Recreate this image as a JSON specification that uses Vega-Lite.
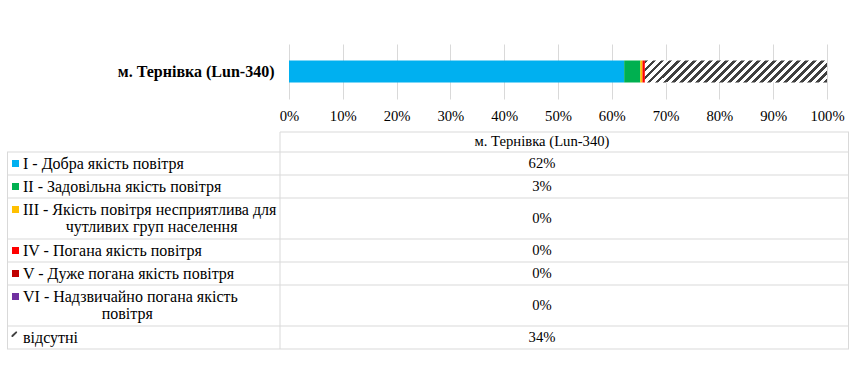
{
  "$schema": "https://vega.github.io/schema/vega-lite/v6.json",
  "padding": {"left": 6, "top": 44, "right": 0, "bottom": 0},
  "background": "white",
  "spacing": 8,
  "config": {"font": "Liberation Serif", "view": {"stroke": null}},
  "datasets": {
    "rows": [
      {"idx": 1, "station": "м. Тернівка (Lun-340)", "cat": "I - Добра якість повітря", "label": ["I - Добра якість повітря"], "value": 0.623},
      {"idx": 2, "station": "м. Тернівка (Lun-340)", "cat": "II - Задовільна якість повітря", "label": ["II - Задовільна якість повітря"], "value": 0.03},
      {"idx": 3, "station": "м. Тернівка (Lun-340)", "cat": "III - Якість повітря несприятлива для чутливих груп населення", "label": ["III - Якість повітря несприятлива для", "чутливих груп населення"], "value": 0.004},
      {"idx": 4, "station": "м. Тернівка (Lun-340)", "cat": "IV - Погана якість повітря", "label": ["IV - Погана якість повітря"], "value": 0.0045},
      {"idx": 5, "station": "м. Тернівка (Lun-340)", "cat": "V - Дуже погана якість повітря", "label": ["V - Дуже погана якість повітря"], "value": 0},
      {"idx": 6, "station": "м. Тернівка (Lun-340)", "cat": "VI - Надзвичайно погана якість повітря", "label": ["VI - Надзвичайно погана якість", "повітря"], "value": 0},
      {"idx": 7, "station": "м. Тернівка (Lun-340)", "cat": "відсутні", "label": ["відсутні"], "value": 0.3385}
    ]
  },
  "vconcat": [
    {
      "width": 842,
      "height": 55,
      "data": {"name": "rows"},
      "transform": [
        {"stack": "value", "groupby": ["station"], "sort": [{"field": "idx", "order": "ascending"}], "as": ["x0", "x1"]}
      ],
      "encoding": {
        "y": {
          "field": "station", "type": "nominal",
          "scale": {"paddingInner": 0, "paddingOuter": 0.75},
          "axis": {"title": null, "offset": -282, "labelFont": "Liberation Serif", "labelFontWeight": "bold", "labelFontSize": 16, "labelColor": "#000000", "ticks": false, "domain": false, "labelPadding": 15, "labelLimit": 280}
        },
        "x": {
          "field": "x0", "type": "quantitative",
          "scale": {"domain": [-0.52416, 1.04089], "nice": false, "zero": false},
          "axis": {"title": null, "values": [0, 0.1, 0.2, 0.3, 0.4, 0.5, 0.6, 0.7, 0.8, 0.9, 1], "format": ".0%", "grid": true, "gridColor": "#D9D9D9", "gridWidth": 1, "domain": false, "ticks": false, "labelPadding": 9, "labelFont": "Liberation Serif", "labelFontSize": 14.67, "labelColor": "#000000", "labelFlush": false}
        },
        "x2": {"field": "x1"}
      },
      "layer": [
        {
          "transform": [{"filter": "datum.idx < 7"}],
          "mark": {"type": "bar"},
          "encoding": {
            "color": {
              "field": "cat", "type": "nominal", "legend": null,
              "scale": {
                "domain": ["I - Добра якість повітря", "II - Задовільна якість повітря", "III - Якість повітря несприятлива для чутливих груп населення", "IV - Погана якість повітря", "V - Дуже погана якість повітря", "VI - Надзвичайно погана якість повітря", "відсутні"],
                "range": ["#00B0F0", "#00B050", "#FFC000", "#FF0000", "#C00000", "#7030A0", "#404040"]
              }
            }
          }
        },
        {
          "transform": [{"filter": "datum.idx == 7"}],
          "mark": {
            "type": "bar",
            "fill": {
              "gradient": "linear", "x1": 0, "y1": 0, "x2": 1.1047, "y2": 0.1335,
              "stops": [
                {"offset": 0, "color": "#404040"}, {"offset": 0.0176, "color": "#404040"}, {"offset": 0.0176, "color": "#ffffff"}, {"offset": 0.0392, "color": "#ffffff"},
                {"offset": 0.0392, "color": "#404040"}, {"offset": 0.0568, "color": "#404040"}, {"offset": 0.0568, "color": "#ffffff"}, {"offset": 0.0784, "color": "#ffffff"},
                {"offset": 0.0784, "color": "#404040"}, {"offset": 0.0960, "color": "#404040"}, {"offset": 0.0960, "color": "#ffffff"}, {"offset": 0.1176, "color": "#ffffff"},
                {"offset": 0.1176, "color": "#404040"}, {"offset": 0.1352, "color": "#404040"}, {"offset": 0.1352, "color": "#ffffff"}, {"offset": 0.1569, "color": "#ffffff"},
                {"offset": 0.1569, "color": "#404040"}, {"offset": 0.1745, "color": "#404040"}, {"offset": 0.1745, "color": "#ffffff"}, {"offset": 0.1961, "color": "#ffffff"},
                {"offset": 0.1961, "color": "#404040"}, {"offset": 0.2137, "color": "#404040"}, {"offset": 0.2137, "color": "#ffffff"}, {"offset": 0.2353, "color": "#ffffff"},
                {"offset": 0.2353, "color": "#404040"}, {"offset": 0.2529, "color": "#404040"}, {"offset": 0.2529, "color": "#ffffff"}, {"offset": 0.2745, "color": "#ffffff"},
                {"offset": 0.2745, "color": "#404040"}, {"offset": 0.2921, "color": "#404040"}, {"offset": 0.2921, "color": "#ffffff"}, {"offset": 0.3137, "color": "#ffffff"},
                {"offset": 0.3137, "color": "#404040"}, {"offset": 0.3313, "color": "#404040"}, {"offset": 0.3313, "color": "#ffffff"}, {"offset": 0.3529, "color": "#ffffff"},
                {"offset": 0.3529, "color": "#404040"}, {"offset": 0.3705, "color": "#404040"}, {"offset": 0.3705, "color": "#ffffff"}, {"offset": 0.3922, "color": "#ffffff"},
                {"offset": 0.3922, "color": "#404040"}, {"offset": 0.4098, "color": "#404040"}, {"offset": 0.4098, "color": "#ffffff"}, {"offset": 0.4314, "color": "#ffffff"},
                {"offset": 0.4314, "color": "#404040"}, {"offset": 0.4490, "color": "#404040"}, {"offset": 0.4490, "color": "#ffffff"}, {"offset": 0.4706, "color": "#ffffff"},
                {"offset": 0.4706, "color": "#404040"}, {"offset": 0.4882, "color": "#404040"}, {"offset": 0.4882, "color": "#ffffff"}, {"offset": 0.5098, "color": "#ffffff"},
                {"offset": 0.5098, "color": "#404040"}, {"offset": 0.5274, "color": "#404040"}, {"offset": 0.5274, "color": "#ffffff"}, {"offset": 0.5490, "color": "#ffffff"},
                {"offset": 0.5490, "color": "#404040"}, {"offset": 0.5666, "color": "#404040"}, {"offset": 0.5666, "color": "#ffffff"}, {"offset": 0.5882, "color": "#ffffff"},
                {"offset": 0.5882, "color": "#404040"}, {"offset": 0.6058, "color": "#404040"}, {"offset": 0.6058, "color": "#ffffff"}, {"offset": 0.6275, "color": "#ffffff"},
                {"offset": 0.6275, "color": "#404040"}, {"offset": 0.6451, "color": "#404040"}, {"offset": 0.6451, "color": "#ffffff"}, {"offset": 0.6667, "color": "#ffffff"},
                {"offset": 0.6667, "color": "#404040"}, {"offset": 0.6843, "color": "#404040"}, {"offset": 0.6843, "color": "#ffffff"}, {"offset": 0.7059, "color": "#ffffff"},
                {"offset": 0.7059, "color": "#404040"}, {"offset": 0.7235, "color": "#404040"}, {"offset": 0.7235, "color": "#ffffff"}, {"offset": 0.7451, "color": "#ffffff"},
                {"offset": 0.7451, "color": "#404040"}, {"offset": 0.7627, "color": "#404040"}, {"offset": 0.7627, "color": "#ffffff"}, {"offset": 0.7843, "color": "#ffffff"},
                {"offset": 0.7843, "color": "#404040"}, {"offset": 0.8019, "color": "#404040"}, {"offset": 0.8019, "color": "#ffffff"}, {"offset": 0.8235, "color": "#ffffff"},
                {"offset": 0.8235, "color": "#404040"}, {"offset": 0.8411, "color": "#404040"}, {"offset": 0.8411, "color": "#ffffff"}, {"offset": 0.8627, "color": "#ffffff"},
                {"offset": 0.8627, "color": "#404040"}, {"offset": 0.8803, "color": "#404040"}, {"offset": 0.8803, "color": "#ffffff"}, {"offset": 0.9020, "color": "#ffffff"},
                {"offset": 0.9020, "color": "#404040"}, {"offset": 0.9196, "color": "#404040"}, {"offset": 0.9196, "color": "#ffffff"}, {"offset": 0.9412, "color": "#ffffff"},
                {"offset": 0.9412, "color": "#404040"}, {"offset": 0.9588, "color": "#404040"}, {"offset": 0.9588, "color": "#ffffff"}, {"offset": 0.9804, "color": "#ffffff"},
                {"offset": 0.9804, "color": "#404040"}, {"offset": 0.9980, "color": "#404040"}, {"offset": 0.9980, "color": "#ffffff"}, {"offset": 1, "color": "#ffffff"}
              ]
            }
          }
        }
      ]
    },
    {
      "width": 842,
      "height": 217,
      "data": {"name": "rows"},
      "transform": [
        {"calculate": "5 + 18 * length(datum.label)", "as": "h"},
        {"window": [{"op": "sum", "field": "h", "as": "cum"}], "sort": [{"field": "idx", "order": "ascending"}], "frame": [null, 0]},
        {"calculate": "datum.cum + 20", "as": "bottom"},
        {"calculate": "datum.bottom - datum.h", "as": "top"},
        {"calculate": "(datum.top + datum.bottom) / 2", "as": "mid"},
        {"calculate": "datum.mid - (length(datum.label) - 1) * 8.65", "as": "textY"},
        {"calculate": "datum.textY + 17.3", "as": "textY2"},
        {"calculate": "datum.label[0]", "as": "line1"},
        {"calculate": "length(datum.label) > 1 ? datum.label[1] : ''", "as": "line2"},
        {"calculate": "16 + 0.5 * 6.95 * length(datum.label[0])", "as": "blockCenter"},
        {"calculate": "datum.top + 11.5", "as": "symY"}
      ],
      "layer": [
        {
          "mark": {"type": "rule", "color": "#D9D9D9", "strokeWidth": 1},
          "encoding": {
            "y": {"field": "bottom", "type": "quantitative", "scale": {"domain": [0, 217], "nice": false, "zero": false, "reverse": true}, "axis": null}
          }
        },
        {
          "transform": [{"filter": "datum.idx == 1"}],
          "mark": {"type": "rule", "color": "#D9D9D9", "strokeWidth": 1},
          "encoding": {
            "y": {"field": "top", "type": "quantitative", "scale": {"domain": [0, 217], "nice": false, "zero": false, "reverse": true}, "axis": null}
          }
        },
        {
          "transform": [{"filter": "datum.idx == 1"}],
          "mark": {"type": "rule", "color": "#D9D9D9", "strokeWidth": 1},
          "encoding": {
            "x": {"datum": 273, "type": "quantitative", "scale": {"domain": [0, 842], "nice": false, "zero": false}, "axis": null},
            "x2": {"datum": 842},
            "y": {"datum": 0, "type": "quantitative", "scale": {"domain": [0, 217], "nice": false, "zero": false, "reverse": true}, "axis": null}
          }
        },
        {
          "transform": [{"filter": "datum.idx == 1"}],
          "mark": {"type": "rule", "color": "#D9D9D9", "strokeWidth": 1},
          "encoding": {
            "x": {"datum": 0.5, "type": "quantitative", "scale": {"domain": [0, 842], "nice": false, "zero": false}, "axis": null},
            "y": {"datum": 20, "type": "quantitative", "scale": {"domain": [0, 217], "nice": false, "zero": false, "reverse": true}, "axis": null},
            "y2": {"datum": 217}
          }
        },
        {
          "transform": [{"filter": "datum.idx == 1"}],
          "mark": {"type": "rule", "color": "#D9D9D9", "strokeWidth": 1},
          "encoding": {
            "x": {"datum": 273, "type": "quantitative", "scale": {"domain": [0, 842], "nice": false, "zero": false}, "axis": null},
            "y": {"datum": 0, "type": "quantitative", "scale": {"domain": [0, 217], "nice": false, "zero": false, "reverse": true}, "axis": null},
            "y2": {"datum": 217}
          }
        },
        {
          "transform": [{"filter": "datum.idx == 1"}],
          "mark": {"type": "rule", "color": "#D9D9D9", "strokeWidth": 1},
          "encoding": {
            "x": {"datum": 841.5, "type": "quantitative", "scale": {"domain": [0, 842], "nice": false, "zero": false}, "axis": null},
            "y": {"datum": 0, "type": "quantitative", "scale": {"domain": [0, 217], "nice": false, "zero": false, "reverse": true}, "axis": null},
            "y2": {"datum": 217}
          }
        },
        {
          "transform": [{"filter": "datum.idx < 7"}],
          "mark": {"type": "point", "filled": true, "size": 49, "opacity": 1, "strokeWidth": 0, "shape": "square"},
          "encoding": {
            "x": {"datum": 8.5, "type": "quantitative", "scale": {"domain": [0, 842], "nice": false, "zero": false}, "axis": null},
            "y": {"field": "symY", "type": "quantitative", "scale": {"domain": [0, 217], "nice": false, "zero": false, "reverse": true}, "axis": null},
            "color": {"field": "cat", "type": "nominal", "legend": null}
          }
        },
        {
          "transform": [{"filter": "datum.idx == 7"}],
          "mark": {"type": "point", "filled": true, "size": 30, "opacity": 1, "strokeWidth": 0, "color": "#404040", "xOffset": -1.2, "yOffset": -3.3, "shape": "M-1,0.4L0.55,-1L1,-1L1,-0.55L-0.55,1L-1,1Z"},
          "encoding": {
            "x": {"datum": 8.5, "type": "quantitative", "scale": {"domain": [0, 842], "nice": false, "zero": false}, "axis": null},
            "y": {"field": "symY", "type": "quantitative", "scale": {"domain": [0, 217], "nice": false, "zero": false, "reverse": true}, "axis": null}
          }
        },
        {
          "mark": {"type": "text", "align": "left", "baseline": "middle", "fontSize": 16, "color": "#000000", "font": "Liberation Serif"},
          "encoding": {
            "x": {"datum": 16, "type": "quantitative", "scale": {"domain": [0, 842], "nice": false, "zero": false}, "axis": null},
            "y": {"field": "textY", "type": "quantitative", "scale": {"domain": [0, 217], "nice": false, "zero": false, "reverse": true}, "axis": null},
            "text": {"field": "line1"}
          }
        },
        {
          "transform": [{"filter": "length(datum.label) > 1"}],
          "mark": {"type": "text", "align": "center", "baseline": "middle", "fontSize": 16, "color": "#000000", "font": "Liberation Serif"},
          "encoding": {
            "x": {"field": "blockCenter", "type": "quantitative", "scale": {"domain": [0, 842], "nice": false, "zero": false}, "axis": null},
            "y": {"field": "textY2", "type": "quantitative", "scale": {"domain": [0, 217], "nice": false, "zero": false, "reverse": true}, "axis": null},
            "text": {"field": "line2"}
          }
        },
        {
          "mark": {"type": "text", "align": "center", "baseline": "middle", "fontSize": 14.67, "color": "#000000", "font": "Liberation Serif"},
          "encoding": {
            "x": {"datum": 535, "type": "quantitative", "scale": {"domain": [0, 842], "nice": false, "zero": false}, "axis": null},
            "y": {"field": "mid", "type": "quantitative", "scale": {"domain": [0, 217], "nice": false, "zero": false, "reverse": true}, "axis": null},
            "text": {"field": "value", "type": "quantitative", "format": ".0%"}
          }
        },
        {
          "transform": [{"filter": "datum.idx == 1"}],
          "mark": {"type": "text", "align": "center", "baseline": "middle", "fontSize": 14.67, "color": "#000000", "font": "Liberation Serif"},
          "encoding": {
            "x": {"datum": 535, "type": "quantitative", "scale": {"domain": [0, 842], "nice": false, "zero": false}, "axis": null},
            "y": {"datum": 10, "type": "quantitative", "scale": {"domain": [0, 217], "nice": false, "zero": false, "reverse": true}, "axis": null},
            "text": {"field": "station"}
          }
        }
      ]
    }
  ]
}
